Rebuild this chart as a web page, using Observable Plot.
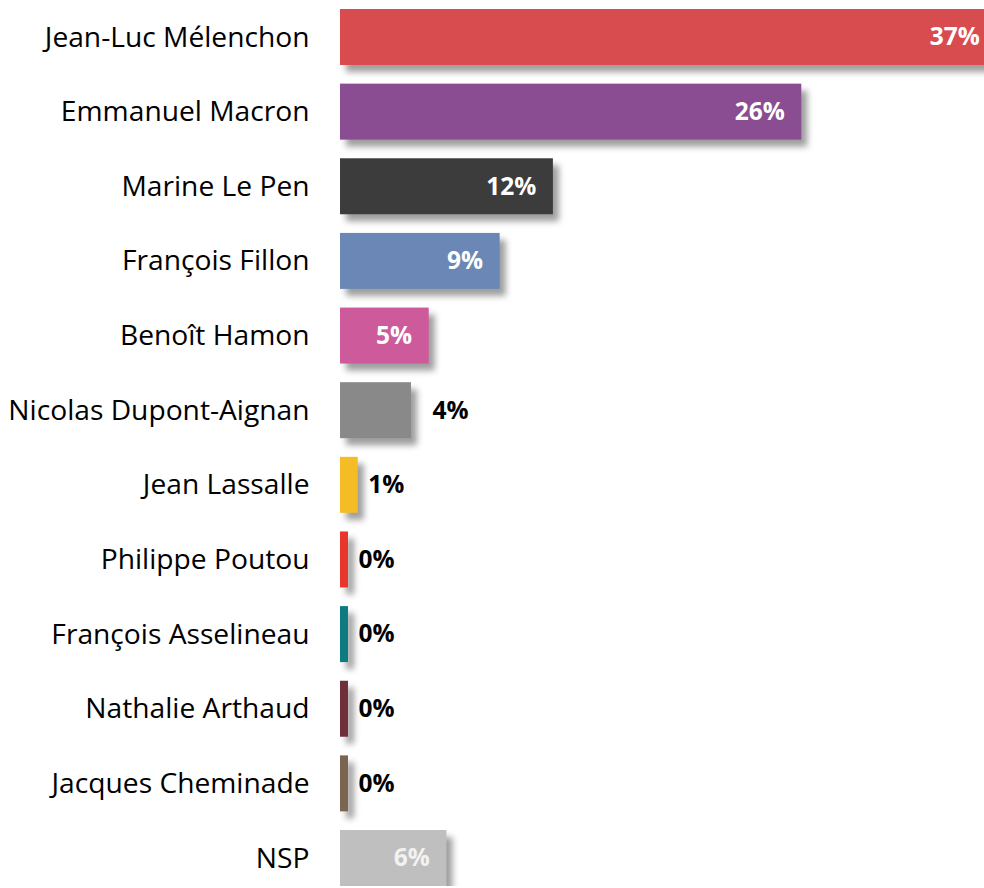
<!DOCTYPE html>
<html>
<head>
<meta charset="utf-8">
<script src="https://cdn.jsdelivr.net/npm/d3@7"></script>
<script src="https://cdn.jsdelivr.net/npm/@observablehq/plot@0.6"></script>
<style>
  html, body { margin: 0; padding: 0; background: #fff; }
  #chart svg { display: block; }
</style>
</head>
<body>
<div id="chart"></div>
<script>
const candidates = ["Jean-Luc Mélenchon", "Emmanuel Macron", "Marine Le Pen", "François Fillon", "Benoît Hamon", "Nicolas Dupont-Aignan", "Jean Lassalle", "Philippe Poutou", "François Asselineau", "Nathalie Arthaud", "Jacques Cheminade", "NSP"];
const values = [37, 26, 12, 9, 5, 4, 1, 0.45, 0.45, 0.45, 0.45, 6];
const colors = ["#d84c50", "#8a4d91", "#3c3c3c", "#6b87b5", "#cd5b9c", "#898989", "#f4bc25", "#e8362c", "#0d7b80", "#6e2f3a", "#7b6450", "#bfbfbf"];
const labelColors = ["#ffffff", "#ffffff", "#ffffff", "#ffffff", "#ffffff", "#000000", "#000000", "#000000", "#000000", "#000000", "#000000", "#f2f2f2"];

const data = candidates.map((c, i) => ({name: c, value: values[i], color: colors[i], labelColor: labelColors[i], label: Math.round(values[i]) + "%"}));
const inside = data.filter(d => d.value >= 5);
const outsideMid = data.filter(d => d.value < 5 && d.value >= 2);
const outsideSmall = data.filter(d => d.value < 2);

const valueText = {y: "name", x: "value", text: "label", fill: d => d.labelColor, fontSize: 24.5, fontWeight: "bold"};

const chart = Plot.plot({
  width: 984,
  height: 888,
  marginLeft: 340,
  marginRight: 0,
  marginTop: 9,
  marginBottom: 2,
  style: {fontFamily: "'Open Sans', sans-serif", background: "#fff"},
  x: {domain: [0, 36.3], axis: null},
  y: {domain: candidates, paddingInner: 0.25, paddingOuter: 0, round: false, label: null},
  marks: [
    Plot.axisY({tickSize: 0, tickPadding: 31, fontSize: 28.2, fill: "#000", label: null}),
    Plot.barX(data, {y: "name", x: "value", fill: d => d.color, clip: true}),
    Plot.text(inside, {...valueText, textAnchor: "end", dx: -17}),
    Plot.text(outsideMid, {...valueText, textAnchor: "start", dx: 21}),
    Plot.text(outsideSmall, {...valueText, textAnchor: "start", dx: 10})
  ]
});
document.getElementById("chart").appendChild(chart);

// drop shadow on bars
d3.select(chart).selectAll("g[aria-label='bar']").style("filter", "drop-shadow(6px 7px 3px rgba(0,0,0,0.38))");
</script>
</body>
</html>
